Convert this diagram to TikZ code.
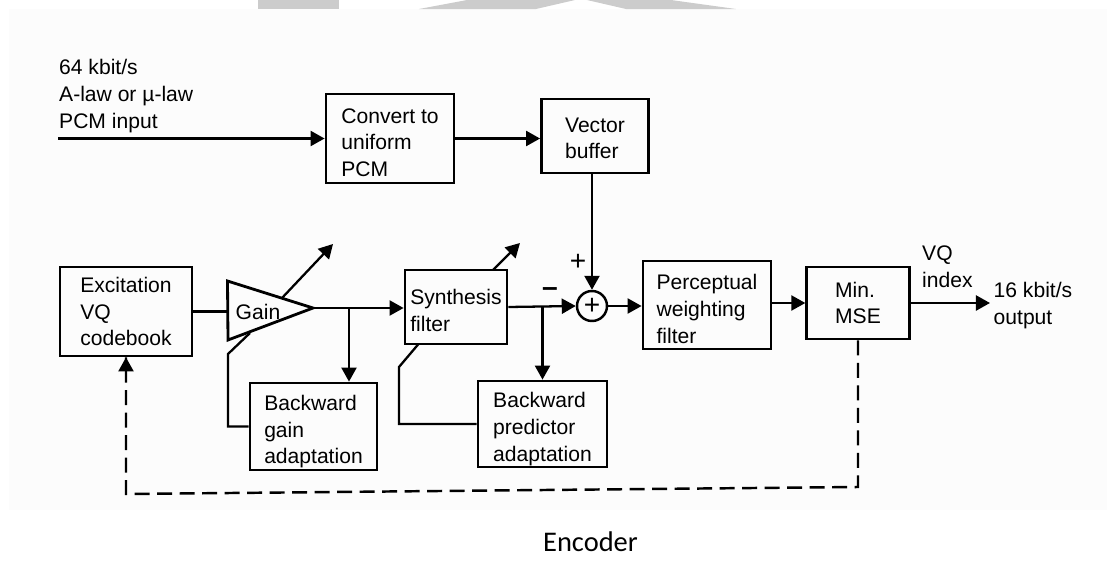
\documentclass[tikz,border=0pt]{standalone}
\usepackage{fontspec}
\setmainfont{Liberation Sans}
\newfontfamily\captionfont{Carlito}
\usetikzlibrary{arrows.meta}
\definecolor{scanwhite}{HTML}{FCFCFC}
\definecolor{markgray}{HTML}{CCCCCC}
\tikzset{
    blockbox/.style={draw=black, line width=.8pt, align=left, inner sep=0pt, font=\blocktext},
    label/.style={align=left, inner sep=0pt, font=\blocktext},
    flow/.style={line width=.65pt, -{Triangle[length=1.4mm, width=1.5mm]}},
    wire/.style={line width=.65pt},
    feedback/.style={line width=.7pt, dash pattern=on 1.5mm off .75mm}
}
\newcommand{\blocktext}{\fontsize{6}{7.6}\selectfont}
\newcommand{\droptext}[1]{\rule{0pt}{#1}}
\begin{document}
\begin{tikzpicture}
    \useasboundingbox (0,0) rectangle (11.07,5.65);

    % Fondo
    \fill[scanwhite] (.09,.55) rectangle (11.07,5.56);
    \fill[markgray] (2.58,5.65) -- (2.58,5.56) -- (3.39,5.56) -- (3.39,5.65) -- cycle;
    \fill[markgray] (4.19,5.56) -- (4.67,5.65) -- (5.75,5.65) -- (5.36,5.56) -- cycle;
    \fill[markgray] (5.87,5.65) -- (6.26,5.56) -- (7.36,5.56) -- (6.71,5.65) -- cycle;

    % Bloques
    \node[blockbox, minimum width=1.28cm, minimum height=.89cm] (convert) at (3.90,4.265)
        {\droptext{6.5pt}Convert to\\uniform\\PCM};
    \node[blockbox, minimum width=1.07cm, minimum height=.74cm] (vector) at (5.95,4.29)
        {\droptext{5.5pt}Vector\\buffer};
    \node[blockbox, minimum width=1.32cm, minimum height=.89cm] (excitation) at (1.26,2.535)
        {Excitation\\VQ\\codebook};
    \node[blockbox, minimum width=1.02cm, minimum height=.74cm] (synth) at (4.56,2.58)
        {\droptext{6.5pt}Synthesis\\filter};
    \node[blockbox, minimum width=1.27cm, minimum height=.87cm] (bgain) at (3.135,1.385)
        {\droptext{7.3pt}Backward\\gain\\adaptation};
    \node[blockbox, minimum width=1.29cm, minimum height=.86cm] (bpred) at (5.425,1.41)
        {\droptext{7.3pt}Backward\\predictor\\adaptation};
    \node[blockbox, minimum width=1.28cm, minimum height=.88cm] (percept) at (7.07,2.60)
        {\droptext{6.5pt}Perceptual\\weighting\\filter};
    \node[blockbox, minimum width=1.025cm, minimum height=.72cm] (mse) at (8.58,2.62)
        {Min.\\MSE};

    % Sumador
    \node[draw=black, line width=.7pt, circle, minimum size=.30cm, inner sep=0pt, font=\footnotesize]
        (sum) at (5.92,2.59) {+};

    % Ganancia
    \coordinate (gainin) at (2.28,2.535);
    \coordinate (gaintip) at (3.13,2.57);
    \draw[line width=.8pt] (2.275,2.84) -- (gaintip) -- (2.28,2.25) -- cycle;
    \node[label] (gain) at (2.58,2.53) {Gain};

    % Puntos auxiliares
    \coordinate (input) at (.58,4.265);
    \coordinate (output) at (9.90,2.62);
    \coordinate (gaintap) at (3.49,2.57);
    \coordinate (predtap) at (5.425,2.58);
    \coordinate (gainout) at (2.82,2.67);
    \coordinate (gainend) at (3.33,3.21);
    \coordinate (synthout) at (4.93,2.95);
    \coordinate (synthend) at (5.20,3.22);
    \coordinate (gainbend) at (2.28,2.11);
    \coordinate (gainfoot) at (2.50,2.32);
    \coordinate (synthbend) at (3.99,1.98);
    \coordinate (synthfoot) at (4.185,2.21);
    \coordinate (dashright) at (8.58,.78);
    \coordinate (dashleft) at (1.26,.71);

    % Senal principal
    \draw[flow] (input) -- (convert);
    \draw[flow] (convert.east) -- (convert.east -| vector.west);
    \draw[flow] (vector.south -| sum.north) -- (sum.north);
    \draw[wire] (excitation.east) -- (excitation.east -| gainin);
    \draw[flow] (gaintip) -- (gaintip -| synth.west);
    \draw[flow] (synth.east) -- (sum.west);
    \draw[flow] (sum.east) -- (sum.east -| percept.west);
    \draw[flow] (percept.east |- mse.west) -- (mse.west);
    \draw[flow] (mse.east) -- (output);

    % Derivaciones
    \draw[flow] (gaintap) -- (gaintap |- bgain.north);
    \draw[flow] (predtap) -- (bpred.north);
    \draw[flow] (gainout) -- (gainend);
    \draw[flow] (synthout) -- (synthend);
    \draw[wire] (bgain.west) -| (gainbend) -- (gainfoot);
    \draw[wire] (bpred.west) -| (synthbend) -- (synthfoot);

    % Realimentacion
    \draw[feedback] (mse.south) -- (dashright) -- (dashleft) -- (excitation.south);
    \draw[flow] ([yshift=-2.2mm]excitation.south) -- (excitation.south);

    % Etiquetas
    \node[label, anchor=north west] (inlabel) at (.585,5.06)
        {64 kbit/s\\A-law or µ-law\\PCM input};
    \node[label, anchor=north west] (vqlabel) at (9.215,3.20) {VQ\\index};
    \node[label, anchor=north west] (outlabel) at (9.93,2.83) {16 kbit/s\\output};
    \node[label, font=\footnotesize] (plus) at (5.78,3.03) {+};
    \node[label, font=\footnotesize\bfseries] (minus) at (5.50,2.73) {--};

    % Titulo
    \node[font=\captionfont\fontsize{8.1}{10}\selectfont, inner sep=0pt] (title) at (5.905,.23) {Encoder};
\end{tikzpicture}
\end{document}
